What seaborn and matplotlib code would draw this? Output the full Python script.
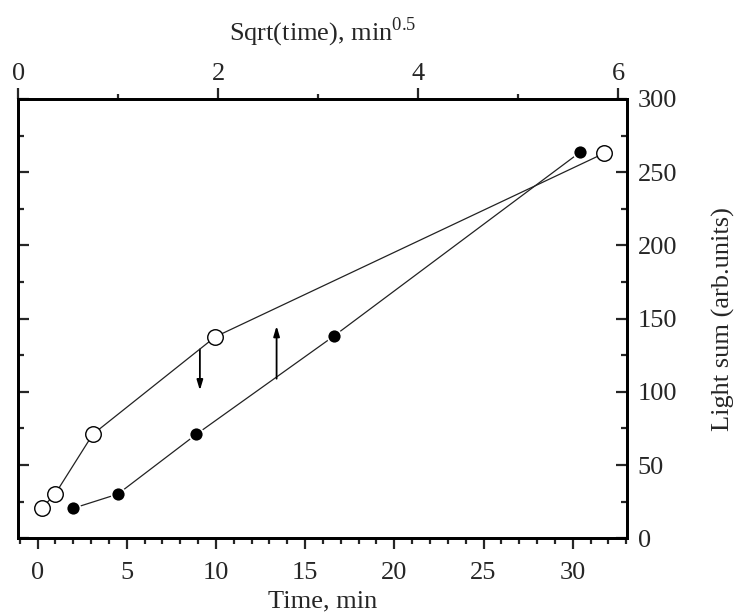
import matplotlib
matplotlib.use("Agg")
import matplotlib.pyplot as plt
from matplotlib.ticker import MultipleLocator, FixedLocator
import seaborn as sns
import pandas as pd

# ---- data ----
time_filled = [2.0, 4.5, 8.9, 16.6, 30.4]          # Time, min (bottom axis)
sum_filled = [20.5, 30.2, 71, 138, 263.5]           # Light sum
sqrt_open = [0.234, 0.368, 0.745, 1.97, 5.854]      # Sqrt(time) (top axis)
sum_open = [20.5, 30.2, 71, 137.6, 262.8]           # Light sum
arrow_x = [9.1, 13.4]                               # Time, min
arrow_from = [129, 109]
arrow_to = [101, 145]

bottom_ticks = [0, 5, 10, 15, 20, 25, 30]
top_ticks = [0, 2, 4, 6]
y_ticks = [0, 50, 100, 150, 200, 250, 300]

sns.set_style("ticks")
plt.rcParams["font.family"] = ["Liberation Serif", "DejaVu Serif"]
plt.rcParams["mathtext.fontset"] = "custom"
plt.rcParams["mathtext.rm"] = "Liberation Serif"

FS = 19

fig = plt.figure(figsize=(7.35, 6.14), dpi=100)
ax = fig.add_axes([0.0249, 0.1233, 0.8278, 0.7155])

df_f = pd.DataFrame({"t": time_filled, "s": sum_filled})
df_o = pd.DataFrame({"q": sqrt_open, "s": sum_open})

sns.lineplot(data=df_f, x="t", y="s", ax=ax, color="#222222", lw=0.9,
             sort=False, estimator=None, zorder=2)
sns.scatterplot(data=df_f, x="t", y="s", ax=ax, color="black", s=100,
                edgecolor="white", linewidth=1.2, zorder=3)

ax.set_xlim(-1.08, 33.03)
ax.set_ylim(0, 300)
ax.xaxis.set_major_locator(FixedLocator(bottom_ticks))
ax.xaxis.set_minor_locator(MultipleLocator(1))
ax.yaxis.set_major_locator(FixedLocator(y_ticks))
ax.yaxis.set_minor_locator(MultipleLocator(25))

ax.tick_params(axis="x", which="both", direction="out", bottom=True, top=False,
               labelsize=FS, width=1.6, pad=9)
ax.tick_params(axis="x", which="major", length=8)
ax.tick_params(axis="x", which="minor", length=4.5)
ax.tick_params(axis="y", which="both", direction="in", left=True, right=True,
               labelleft=False, labelright=True, labelsize=FS, width=1.6, pad=8)
ax.tick_params(axis="y", which="major", length=8)
ax.tick_params(axis="y", which="minor", length=4)

for sp in ax.spines.values():
    sp.set_visible(True)
    sp.set_linewidth(2.0)
    sp.set_color("black")

ax.set_xlabel("Time, min", fontsize=FS, labelpad=5)
ax.yaxis.set_label_position("right")
ax.set_ylabel("Light sum (arb.units)", fontsize=FS, labelpad=25)

# arrows
for x, y0, y1 in zip(arrow_x, arrow_from, arrow_to):
    ax.annotate("", xy=(x, y1), xytext=(x, y0),
                arrowprops=dict(arrowstyle="-|>,head_length=0.6,head_width=0.18",
                                color="black", lw=1.3, shrinkA=0, shrinkB=0),
                zorder=4)

# top axis (sqrt time)
ax2 = ax.twiny()
sns.lineplot(data=df_o, x="q", y="s", ax=ax2, color="#222222", lw=0.9,
             sort=False, estimator=None, zorder=2)
sns.scatterplot(data=df_o, x="q", y="s", ax=ax2, facecolor="white",
                edgecolor="black", linewidth=1.0, s=125, zorder=3)
ax2.set_xlim(0, 6.084)
ax2.set_ylim(0, 300)
ax2.xaxis.set_major_locator(FixedLocator(top_ticks))
ax2.xaxis.set_minor_locator(MultipleLocator(1))
ax2.tick_params(axis="x", which="both", direction="out", top=True, bottom=False,
                labelsize=FS, width=1.6, pad=2)
ax2.tick_params(axis="x", which="major", length=8)
ax2.tick_params(axis="x", which="minor", length=3.5)
ax2.set_xlabel(r"Sqrt(time), min$^{0.5}$", fontsize=FS, labelpad=16)
ax2.set_ylabel("")
ax2.tick_params(axis="y", which="both", left=False, right=False,
                labelleft=False, labelright=False)
for sp in ax2.spines.values():
    sp.set_linewidth(2.0)
    sp.set_color("black")

fig.savefig("out.png", dpi=100)
